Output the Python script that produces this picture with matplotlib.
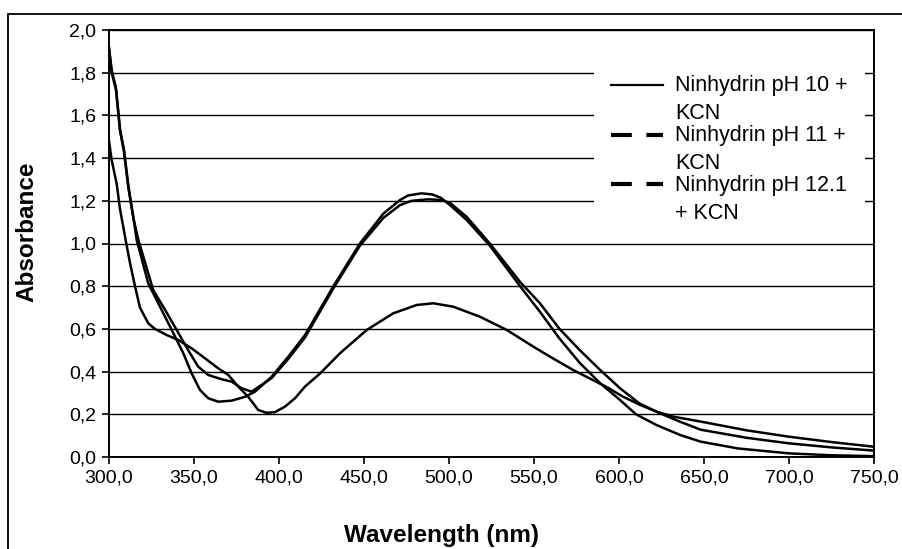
import matplotlib
matplotlib.use('Agg')
import matplotlib.pyplot as plt
from matplotlib.lines import Line2D
from matplotlib.legend_handler import HandlerLine2D
from matplotlib.patches import Rectangle

plt.rcParams['font.family'] = ['Liberation Sans', 'DejaVu Sans']

# spectra (wavelength in nm, absorbance)
wl_ph10 = [300, 301.6, 304.1, 306.5, 308.8, 311.4, 314.3, 316.3, 323.1, 330, 336.9, 343.7,
           348.6, 353.5, 358.4, 364.3, 372.2, 380, 385.9, 395.7, 405.5, 415.3, 432, 447.6,
           461.4, 471.2, 476, 483.9, 490, 495, 500.6, 510.4, 524, 541.8, 553.5, 565, 577,
           589, 600.6, 610, 622, 636, 648, 670, 700, 725, 750]
abs_ph10 = [1.92, 1.81, 1.73, 1.53, 1.44, 1.27, 1.125, 1.016, 0.813, 0.704, 0.595, 0.486,
            0.392, 0.314, 0.275, 0.259, 0.264, 0.282, 0.306, 0.376, 0.47, 0.571, 0.80, 1.0,
            1.14, 1.204, 1.225, 1.235, 1.23, 1.215, 1.18, 1.11, 0.99, 0.80, 0.68, 0.555, 0.44,
            0.345, 0.267, 0.20, 0.15, 0.103, 0.072, 0.04, 0.017, 0.008, 0.004]

wl_ph11 = [300, 301.6, 304.1, 306.5, 308.8, 311.4, 314.3, 317.3, 326, 333, 339.8, 346.6,
           352.5, 358.4, 366.3, 372.2, 378, 383.9, 395.7, 405.5, 415.3, 432, 447.6, 461.4,
           471.2, 478, 487.8, 493, 497, 500.6, 510.4, 524, 541.8, 553.5, 565, 577, 589,
           600.6, 612, 624, 636, 648, 675, 700, 725, 750]
abs_ph11 = [1.91, 1.80, 1.72, 1.53, 1.43, 1.26, 1.12, 1.016, 0.782, 0.689, 0.595, 0.50,
            0.423, 0.384, 0.364, 0.353, 0.322, 0.306, 0.37, 0.46, 0.56, 0.79, 0.99, 1.12,
            1.18, 1.20, 1.207, 1.205, 1.20, 1.19, 1.125, 1.0, 0.82, 0.72, 0.60, 0.50, 0.407,
            0.322, 0.251, 0.205, 0.165, 0.128, 0.09, 0.064, 0.045, 0.03]

wl_ph121 = [300, 301.6, 304.5, 306.5, 309.8, 312.4, 315.3, 318.2, 323.1, 327, 334, 340.8,
            348.6, 356.5, 364.3, 370.2, 376, 381.9, 387.8, 392.7, 397.6, 403.5, 409.4, 415.3,
            424, 435.9, 451.6, 467.2, 481, 490.8, 502.5, 518.2, 534, 549.6, 559.4, 573.1,
            592.7, 602.5, 612.4, 622.2, 632, 648, 675, 700, 725, 750]
abs_ph121 = [1.48, 1.39, 1.28, 1.16, 1.016, 0.907, 0.80, 0.70, 0.626, 0.60, 0.571, 0.548,
             0.509, 0.462, 0.415, 0.384, 0.33, 0.282, 0.22, 0.207, 0.21, 0.236, 0.275, 0.33,
             0.39, 0.486, 0.595, 0.673, 0.712, 0.72, 0.704, 0.657, 0.595, 0.517, 0.47, 0.407,
             0.328, 0.282, 0.244, 0.212, 0.189, 0.166, 0.125, 0.095, 0.07, 0.048]

labels = ['Ninhydrin pH 10 +\nKCN', 'Ninhydrin pH 11 +\nKCN', 'Ninhydrin pH 12.1\n+ KCN']

x_ticks = [300, 350, 400, 450, 500, 550, 600, 650, 700, 750]
x_tick_labels = ['300,0', '350,0', '400,0', '450,0', '500,0', '550,0', '600,0', '650,0', '700,0', '750,0']
y_ticks = [0, 0.2, 0.4, 0.6, 0.8, 1.0, 1.2, 1.4, 1.6, 1.8, 2.0]
y_tick_labels = ['0,0', '0,2', '0,4', '0,6', '0,8', '1,0', '1,2', '1,4', '1,6', '1,8', '2,0']


class TopAlignedHandler(HandlerLine2D):
    # put the legend key next to the first text line, like the original
    def create_artists(self, legend, orig_handle, xdescent, ydescent, width, height, fontsize, trans):
        artists = super().create_artists(legend, orig_handle, xdescent, ydescent,
                                         width, height, fontsize, trans)
        for a in artists:
            a.set_ydata([y + 0.72 * fontsize for y in a.get_ydata()])
        return artists


fig = plt.figure(figsize=(9.02, 5.49), dpi=100)
ax = fig.add_axes([109 / 902, 92 / 549, 765 / 902, 427 / 549])

for wl, ab in [(wl_ph10, abs_ph10), (wl_ph11, abs_ph11), (wl_ph121, abs_ph121)]:
    ax.plot(wl, ab, color='black', linewidth=1.8, zorder=3)

ax.set_xlim(300, 750)
ax.set_ylim(0, 2.0)
ax.set_xticks(x_ticks)
ax.set_xticklabels(x_tick_labels)
ax.set_yticks(y_ticks)
ax.set_yticklabels(y_tick_labels)
ax.tick_params(axis='both', direction='out', length=5, width=1.2, labelsize=14, pad=4)
ax.yaxis.grid(True, color='black', linewidth=1.0)
ax.set_axisbelow(True)
for side in ['left', 'bottom', 'right', 'top']:
    ax.spines[side].set_linewidth(1.4)

ax.set_xlabel('Wavelength (nm)', fontsize=17.5, fontweight='bold', va='center')
ax.xaxis.set_label_coords(0.435, -0.183)
ax.set_ylabel('Absorbance', fontsize=17.5, fontweight='bold', va='center')
ax.yaxis.set_label_coords(-0.107, 0.527)

handles = [Line2D([], [], color='black', linewidth=1.6),
           Line2D([], [], color='black', linewidth=3, dashes=(5, 3.5)),
           Line2D([], [], color='black', linewidth=3, dashes=(5, 3.5))]
leg = ax.legend(handles, labels, loc='upper left', bbox_to_anchor=(0.634, 0.934),
                borderaxespad=0, fontsize=15.5, handlelength=2.4, handletextpad=0.56,
                borderpad=0.8, labelspacing=0.05, frameon=True, fancybox=False,
                handler_map={Line2D: TopAlignedHandler()})
leg.get_frame().set_facecolor('white')
leg.get_frame().set_edgecolor('none')
leg.get_frame().set_alpha(1)
for t in leg.get_texts():
    t.set_linespacing(1.42)

# chart-area border (cut off at right and bottom in the original)
fig.add_artist(Rectangle((8 / 902, -0.2), 1.2, 0.2 + (549 - 14) / 549,
                         transform=fig.transFigure, fill=False, edgecolor='black',
                         linewidth=1.3, clip_on=False))

fig.savefig('out.png', dpi=100)
